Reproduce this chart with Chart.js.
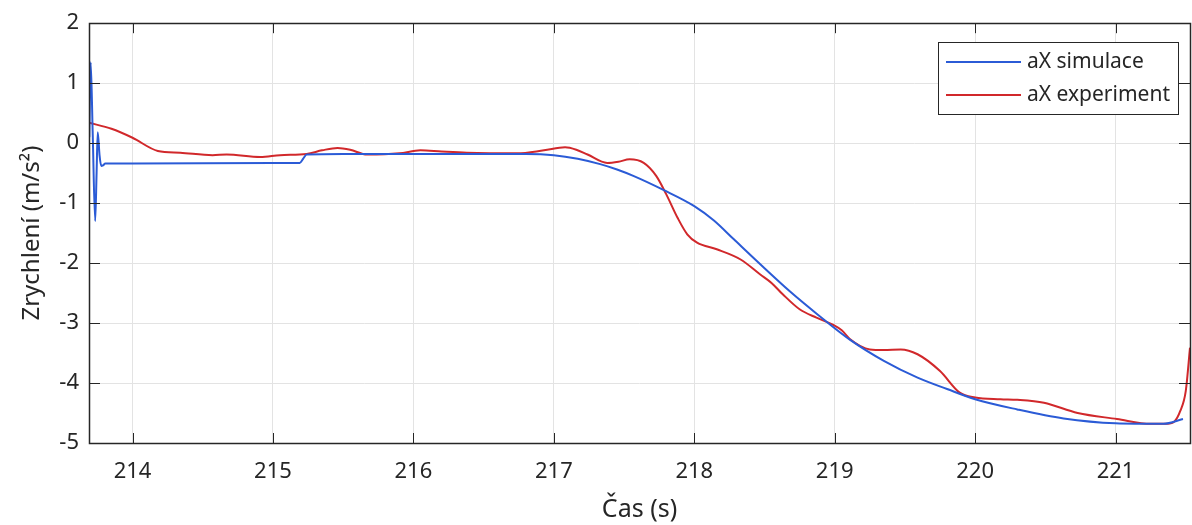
<!DOCTYPE html>
<html>
<head>
<meta charset="utf-8">
<script src="https://cdn.jsdelivr.net/npm/chart.js@4.4.1/dist/chart.umd.min.js"></script>
<style>
  html, body { margin: 0; padding: 0; background: #fff; }
  #wrap { width: 1192px; height: 525px; }
</style>
</head>
<body>
<div id="wrap"><canvas id="accChart" width="1192" height="525"></canvas></div>
<script>
// cas (s) a zrychleni (m/s^2)
const simT = [213.692, 213.702, 213.716, 213.734, 213.744, 213.752, 213.765, 213.777, 213.79, 213.806,
  214.0, 215.0, 215.19, 215.215, 215.24, 215.5, 216.0, 216.5, 216.8, 217.0, 217.17, 217.33, 217.45,
  217.57, 217.78, 218.0, 218.14, 218.28, 218.47, 218.68, 218.88, 219.11, 219.35, 219.59, 219.8,
  220.0, 220.3, 220.63, 221.0, 221.34, 221.48];
const simA = [0.1, 1.35, 0.2, -1.3, -0.5, 0.18, -0.2, -0.38, -0.37, -0.34,
  -0.34, -0.33, -0.33, -0.26, -0.19, -0.18, -0.18, -0.18, -0.18, -0.2, -0.26, -0.35, -0.44,
  -0.55, -0.78, -1.05, -1.29, -1.6, -2.02, -2.47, -2.86, -3.28, -3.63, -3.91, -4.1,
  -4.27, -4.44, -4.59, -4.67, -4.68, -4.6];

const expT = [213.69, 213.85, 214.0, 214.18, 214.34, 214.57, 214.67, 214.91, 215.05, 215.24, 215.35,
  215.46, 215.55, 215.67, 215.9, 216.05, 216.2, 216.38, 216.74, 216.93, 217.08, 217.16, 217.24,
  217.38, 217.46, 217.54, 217.64, 217.73, 217.8, 217.88, 217.95, 218.02, 218.16, 218.33, 218.47,
  218.55, 218.63, 218.75, 218.87, 218.99, 219.05, 219.11, 219.25, 219.35, 219.47, 219.59, 219.75,
  219.89, 220.0, 220.18, 220.3, 220.49, 220.73, 221.01, 221.25, 221.37, 221.42, 221.46, 221.5, 221.53];
const expA = [0.34, 0.24, 0.09, -0.13, -0.16, -0.2, -0.19, -0.23, -0.2, -0.18, -0.12,
  -0.08, -0.11, -0.19, -0.17, -0.12, -0.14, -0.16, -0.17, -0.12, -0.07, -0.11, -0.19,
  -0.33, -0.31, -0.27, -0.33, -0.55, -0.85, -1.24, -1.52, -1.66, -1.77, -1.94, -2.19,
  -2.33, -2.52, -2.77, -2.91, -3.03, -3.12, -3.27, -3.44, -3.45, -3.44, -3.52, -3.8,
  -4.16, -4.24, -4.27, -4.28, -4.33, -4.5, -4.6, -4.68, -4.68, -4.64, -4.47, -4.13, -3.41];

const xTicks = [214, 215, 216, 217, 218, 219, 220, 221];
const yTicks = [-5, -4, -3, -2, -1, 0, 1, 2];
const seriesNames = ['aX simulace', 'aX experiment'];
const seriesColors = ['#2b5bd6', '#d1282b'];

const FONT = '"Noto Sans", "Open Sans", sans-serif';
const INK = '#262626';

function pts(xs, ys) {
  return xs.map((x, i) => ({ x: x, y: ys[i] }));
}

// ramecek os s tickama dovnitr + legenda v rohu
const boxPlugin = {
  id: 'boxPlugin',
  afterDraw(chart) {
    const ctx = chart.ctx;
    const a = chart.chartArea;
    const xs = chart.scales.x, ys = chart.scales.y;
    ctx.save();
    ctx.strokeStyle = INK;
    ctx.lineWidth = 1;
    ctx.beginPath();
    xTicks.forEach(v => {
      const px = Math.round(xs.getPixelForValue(v)) + 0.5;
      ctx.moveTo(px, a.bottom); ctx.lineTo(px, a.bottom - 10);
      ctx.moveTo(px, a.top); ctx.lineTo(px, a.top + 10);
    });
    yTicks.forEach(v => {
      const py = Math.round(ys.getPixelForValue(v)) + 0.5;
      ctx.moveTo(a.left, py); ctx.lineTo(a.left + 11, py);
      ctx.moveTo(a.right, py); ctx.lineTo(a.right - 11, py);
    });
    ctx.stroke();
    ctx.lineWidth = 1.5;
    ctx.strokeRect(Math.round(a.left) + 0.5, Math.round(a.top) + 0.5,
      Math.round(a.right - a.left), Math.round(a.bottom - a.top));

    // legenda
    const lx = 938, ly = 42, lw = 240, lh = 72;
    ctx.fillStyle = '#fff';
    ctx.fillRect(lx, ly, lw, lh);
    ctx.lineWidth = 1;
    ctx.strokeStyle = INK;
    ctx.strokeRect(lx + 0.5, ly + 0.5, lw, lh);
    ctx.font = '21px ' + FONT;
    ctx.textBaseline = 'middle';
    chart.data.datasets.forEach((ds, i) => {
      const yy = ly + 20 + i * 33;
      ctx.strokeStyle = ds.borderColor;
      ctx.lineWidth = 2;
      ctx.beginPath();
      ctx.moveTo(lx + 8, yy); ctx.lineTo(lx + 83, yy);
      ctx.stroke();
      ctx.fillStyle = INK;
      ctx.fillText(ds.label, lx + 89, yy);
    });
    ctx.restore();
  }
};

const ctx = document.getElementById('accChart').getContext('2d');
const chart = new Chart(ctx, {
  type: 'line',
  data: {
    datasets: [
      {
        label: seriesNames[0],
        data: pts(simT, simA),
        borderColor: seriesColors[0],
        borderWidth: 2,
        pointRadius: 0,
        fill: false,
        cubicInterpolationMode: 'monotone'
      },
      {
        label: seriesNames[1],
        data: pts(expT, expA),
        borderColor: seriesColors[1],
        borderWidth: 2,
        pointRadius: 0,
        fill: false,
        cubicInterpolationMode: 'monotone'
      }
    ]
  },
  options: {
    responsive: false,
    animation: false,
    layout: { padding: { top: 22, right: 2, left: 0, bottom: 0 } },
    plugins: {
      legend: { display: false },
      tooltip: { enabled: false }
    },
    scales: {
      x: {
        type: 'linear',
        min: 213.69,
        max: 221.53,
        afterBuildTicks: s => { s.ticks = xTicks.map(v => ({ value: v })); },
        afterFit: s => { s.height = 82; },
        grid: { color: '#e3e3e3', drawTicks: false },
        border: { display: false },
        ticks: {
          padding: 16,
          color: INK,
          font: { family: FONT, size: 22 },
          maxRotation: 0,
          callback: v => String(v)
        },
        title: {
          display: true,
          text: 'Čas (s)',
          color: INK,
          font: { family: FONT, size: 25 },
          padding: { top: 0, bottom: 0 }
        }
      },
      y: {
        min: -5,
        max: 2,
        afterBuildTicks: s => { s.ticks = yTicks.map(v => ({ value: v })); },
        afterFit: s => { s.width = 89; },
        grid: { color: '#e3e3e3', drawTicks: false },
        border: { display: false },
        ticks: {
          padding: 10,
          color: INK,
          font: { family: FONT, size: 22 },
          callback: v => String(v)
        },
        title: {
          display: true,
          text: 'Zrychlení (m/s²)',
          color: INK,
          font: { family: FONT, size: 24 },
          padding: { top: 18, bottom: 0 }
        }
      }
    }
  },
  plugins: [boxPlugin]
});
</script>
</body>
</html>
